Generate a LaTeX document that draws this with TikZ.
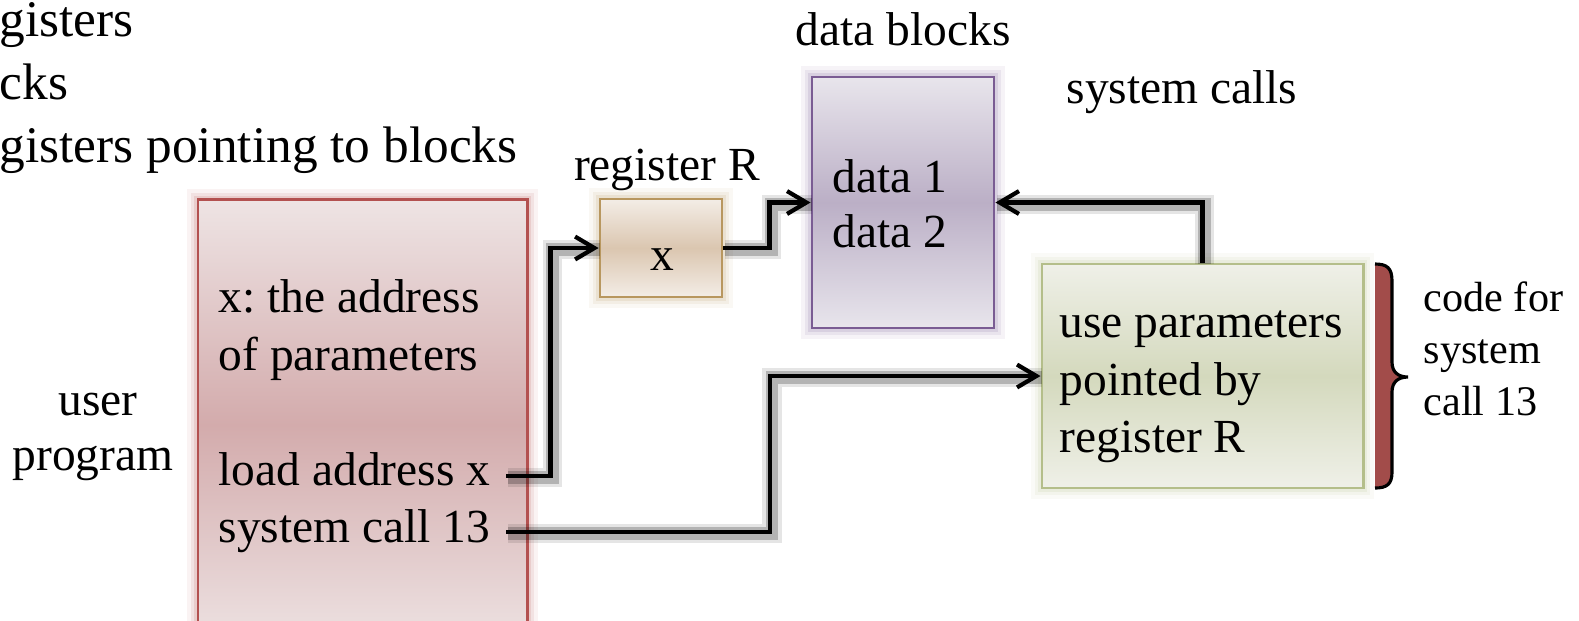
\documentclass[tikz,border=0pt]{standalone}
\usepackage{fontspec}
\setmainfont{Liberation Serif}
\usetikzlibrary{arrows.meta}
\frenchspacing

\definecolor{progline}{HTML}{B35150}
\definecolor{progtop}{HTML}{EEE4E4}
\definecolor{progmid}{HTML}{D3ABAC}
\definecolor{regline}{HTML}{B8975F}
\definecolor{regtop}{HTML}{F3EDE6}
\definecolor{regmid}{HTML}{DBC6B0}
\definecolor{dataline}{HTML}{7A5C93}
\definecolor{datatop}{HTML}{E8E5EC}
\definecolor{datamid}{HTML}{BBAFC6}
\definecolor{codeline}{HTML}{B4BE8A}
\definecolor{codetop}{HTML}{EFF0E8}
\definecolor{codemid}{HTML}{D4D9BD}
\definecolor{bracered}{HTML}{A24C4A}

\newcommand{\bracepath}{(1375,264) .. controls (1387,264) and (1392,268) .. (1392,281)
  -- (1392,362) .. controls (1392,372) and (1398,377) .. (1408,377)
  .. controls (1398,377) and (1392,382) .. (1392,392)
  -- (1392,472) .. controls (1392,484) and (1387,488) .. (1375,488)}

\tikzset{
  box/.style={rectangle, draw=#1line, line width=0.8pt, inner sep=0pt,
    top color=#1top, bottom color=#1top, middle color=#1mid,
    preaction={draw=#1line, line width=6pt, opacity=0.07},
    preaction={draw=#1line, line width=4pt, opacity=0.10},
    preaction={draw=#1line, line width=2.2pt, opacity=0.15}},
  txt/.style={inner sep=0pt, anchor=base west, font=\fontsize{13.5}{16}\selectfont},
  small/.style={txt, font=\fontsize{12}{14}\selectfont},
  big/.style={txt, font=\fontsize{14.6}{18}\selectfont},
  conn/.style={draw=black, line width=1.2pt, -{Straight Barb[length=5.5pt,width=6.5pt]},
    preaction={draw=black, line width=5.5pt, opacity=0.10, -, transform canvas={shift={(0.5pt,-0.5pt)}}},
    preaction={draw=black, line width=3.6pt, opacity=0.22, -, transform canvas={shift={(0.5pt,-0.5pt)}}}},
}

\begin{document}
\begin{tikzpicture}[x=0.01cm, y=-0.01cm]
  \useasboundingbox (0,0) rectangle (1579,620);

  % list text cut off at the left
  \node[big] (l1) at (-1,36) {gisters};
  \node[big] (l2) at (-1,99) {cks};
  \node[big] (l3) at (-1,162) {gisters pointing to blocks};

  % user program
  \node[box=prog, minimum width=3.29cm, minimum height=4.5cm] (prog) at (362.5,425) {};
  \node[txt, anchor=base] (user) at (98,415) {user};
  \node[txt, anchor=base] (program) at (93,470) {program};
  \node[txt] (xaddr) at (218,312) {x: the address};
  \node[txt] (ofpar) at (218,370) {of parameters};
  \node[txt] (loadx) at (218,485) {load address x};
  \node[txt] (sysc) at (218,542) {system call 13};

  % register R
  \node[box=reg, minimum width=1.22cm, minimum height=0.98cm] (reg) at (661,248) {};
  \node[txt, anchor=base] (regname) at (667,180) {register R};
  \node[txt, anchor=base] (regval) at (662,270) {x};

  % data blocks
  \node[box=data, minimum width=1.82cm, minimum height=2.51cm] (data) at (903,202.5) {};
  \node[txt, anchor=base] (dataname) at (903,45) {data blocks};
  \node[txt] (d1) at (832,192) {data 1};
  \node[txt] (d2) at (832,247) {data 2};

  % system call code
  \node[txt, anchor=base] (sysname) at (1182,103) {system calls};
  \node[box=code, minimum width=3.21cm, minimum height=2.24cm] (code) at (1202.5,376) {};
  \node[txt] (c1) at (1059,337) {use parameters};
  \node[txt] (c2) at (1059,395) {pointed by};
  \node[txt] (c3) at (1059,452) {register R};

  \fill[bracered] \bracepath -- cycle;
  \draw[line width=0.9pt] \bracepath;
  \node[small] (cf1) at (1423,311) {code for};
  \node[small] (cf2) at (1423,363) {system};
  \node[small] (cf3) at (1423,415) {call 13};

  \draw[conn] ([shift={(15,-9)}]loadx.base east) -| ([xshift=-0.48cm]reg.west) -- (reg.west);
  \draw[conn] (reg.east) -- ++(46,0) |- (data.west);
  \draw[conn] ([shift={(15,-10)}]sysc.base east) -| ([xshift=-2.7cm]code.west) -- (code.west);
  \draw[conn] (code.north) |- (data.east);
\end{tikzpicture}
\end{document}
